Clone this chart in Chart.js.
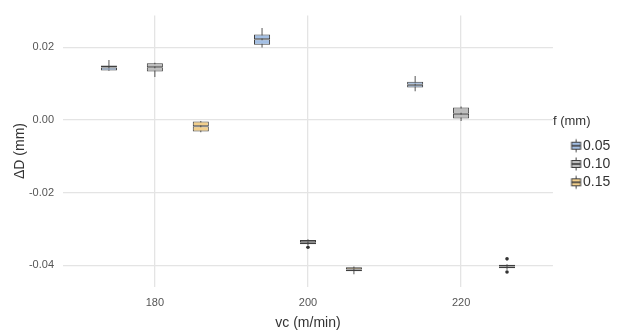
<!DOCTYPE html>
<html>
<head>
<meta charset="utf-8">
<script src="https://cdn.jsdelivr.net/npm/chart.js@4.4.1/dist/chart.umd.min.js"></script>
<style>
html,body{margin:0;padding:0;background:#ffffff;}
canvas{display:block;}
</style>
</head>
<body>
<canvas id="c" width="627" height="335"></canvas>
<script>
// ---------- data ----------
const VC = [180, 200, 220];                 // x categories (m/min)
const F_LABELS = ['0.05', '0.10', '0.15'];  // feed levels (mm)
const Y_TICKS = [-0.04, -0.02, 0.00, 0.02];

// box statistics per vc (180, 200, 220)
const F05_MIN = [0.0135, 0.0199, 0.0079];
const F05_Q1  = [0.0136, 0.0207, 0.0089];
const F05_MED = [0.0144, 0.0222, 0.0097];
const F05_Q3  = [0.0150, 0.0235, 0.0105];
const F05_MAX = [0.0165, 0.0253, 0.0121];

const F10_MIN = [0.0118, -0.0344, -0.0003];
const F10_Q1  = [0.0133, -0.0342, 0.0004];
const F10_MED = [0.0145, -0.0336, 0.0017];
const F10_Q3  = [0.0156, -0.0330, 0.0034];
const F10_MAX = [0.0157, -0.0328, 0.0037];

const F15_MIN = [-0.0034, -0.0424, -0.0412];
const F15_Q1  = [-0.0032, -0.0416, -0.0408];
const F15_MED = [-0.0017, -0.0411, -0.0403];
const F15_Q3  = [-0.0004, -0.0405, -0.0398];
const F15_MAX = [-0.0003, -0.0403, -0.0397];

// outliers
const OUT_SERIES = [1, 2, 2];               // index into F_LABELS
const OUT_VC     = [200, 220, 220];
const OUT_VAL    = [-0.0350, -0.0382, -0.0418];

// ---------- styling ----------
const FONT = "'Liberation Sans', Arial, Helvetica, sans-serif";
const FILLS = ['#a3bfe4', '#bdbdbd', '#f2cf8c'];
const EDGE = '#3f3f3f';
const WHISKER = '#555555';
const GRID = '#e4e4e4';
const DODGE_FRAC = 0.9;   // share of the vc step used by a dodged group
const BOX_FRAC = 0.35;    // box width within its dodge slot
const VC_STEP = VC[1] - VC[0];

Chart.defaults.font.family = FONT;
Chart.defaults.color = '#555';

const SERIES = [
  {label: F_LABELS[0], min: F05_MIN, q1: F05_Q1, med: F05_MED, q3: F05_Q3, max: F05_MAX},
  {label: F_LABELS[1], min: F10_MIN, q1: F10_Q1, med: F10_MED, q3: F10_Q3, max: F10_MAX},
  {label: F_LABELS[2], min: F15_MIN, q1: F15_Q1, med: F15_MED, q3: F15_Q3, max: F15_MAX}
];

const datasets = [];
// boxes: two floating halves per series (their shared edge forms the thick median)
SERIES.forEach((s, si) => {
  const common = {
    type: 'bar', stack: 'f' + si, backgroundColor: FILLS[si], borderColor: EDGE,
    borderWidth: 1, borderSkipped: false, barPercentage: BOX_FRAC,
    categoryPercentage: DODGE_FRAC, order: 1
  };
  datasets.push(Object.assign({}, common, {
    label: s.label + ' lower',
    data: VC.map((v, i) => ({x: v, y: [s.q1[i], s.med[i]]}))
  }));
  datasets.push(Object.assign({}, common, {
    label: s.label + ' upper',
    data: VC.map((v, i) => ({x: v, y: [s.med[i], s.q3[i]]}))
  }));
});
// whiskers
SERIES.forEach((s, si) => {
  datasets.push({
    type: 'bar', stack: 'f' + si, label: s.label + ' whisker',
    data: VC.map((v, i) => ({x: v, y: [s.min[i], s.max[i]]})),
    backgroundColor: WHISKER, borderWidth: 0, barPercentage: 0.05, maxBarThickness: 1,
    categoryPercentage: DODGE_FRAC, order: 2
  });
});
// outliers, dodged like the boxes
const slot = VC_STEP * DODGE_FRAC / SERIES.length;
datasets.push({
  type: 'scatter', label: 'outliers',
  data: OUT_VAL.map((v, i) => ({x: OUT_VC[i] + (OUT_SERIES[i] - (SERIES.length - 1) / 2) * slot, y: v})),
  pointRadius: 1.8, pointBackgroundColor: '#333', pointBorderWidth: 0, order: 0
});

function makeGlyph(fill) {
  const c = document.createElement('canvas');
  c.width = 44; c.height = 18;
  const g = c.getContext('2d');
  const cx = 31.5, cy = 9;
  g.strokeStyle = EDGE; g.lineWidth = 1;
  g.beginPath(); g.moveTo(cx, cy - 6.5); g.lineTo(cx, cy + 6.5); g.stroke();
  g.fillStyle = fill;
  g.fillRect(cx - 4.5, cy - 3.5, 9, 7);
  g.strokeRect(cx - 4.5, cy - 3.5, 9, 7);
  g.lineWidth = 1.6;
  g.beginPath(); g.moveTo(cx - 4.5, cy); g.lineTo(cx + 4.5, cy); g.stroke();
  return c;
}
const GLYPHS = FILLS.map(makeGlyph);

new Chart(document.getElementById('c'), {
  type: 'bar',
  data: {datasets},
  options: {
    responsive: false,
    animation: false,
    devicePixelRatio: 1,
    layout: {padding: {top: 10.8, right: 6.8, bottom: 0, left: 0}},
    plugins: {
      tooltip: {enabled: false},
      legend: {
        position: 'right', fullSize: false, align: 'center',
        onClick: null,
        title: {
          display: true, text: 'f (mm)', position: 'start', color: '#333',
          font: {size: 13}, padding: {top: 6.4, bottom: 3.9}
        },
        labels: {
          usePointStyle: true, pointStyleWidth: 18.7, padding: 4.3,
          color: '#333', font: {size: 14},
          generateLabels: () => SERIES.map((s, si) => ({
            text: s.label, pointStyle: GLYPHS[si], fillStyle: FILLS[si],
            strokeStyle: EDGE, lineWidth: 0, hidden: false, datasetIndex: si * 2,
            fontColor: '#333'
          }))
        }
      }
    },
    scales: {
      x: {
        type: 'linear', min: 168, max: 232, offset: false,
        afterBuildTicks: sc => { sc.ticks = VC.map(v => ({value: v})); },
        ticks: {callback: v => String(v), color: '#555', font: {size: 11}, padding: 10},
        grid: {color: GRID, lineWidth: 1.3, drawTicks: false, offset: false},
        border: {display: false},
        title: {display: true, text: 'vc (m/min)', color: '#333', font: {size: 14}, padding: {top: 0, bottom: 3.6}},
        afterFit: sc => { sc.height = 48.5; }
      },
      y: {
        type: 'linear', min: -0.0458, max: 0.0287, stacked: false,
        afterBuildTicks: sc => { sc.ticks = Y_TICKS.map(v => ({value: v})); },
        ticks: {callback: v => Number(v).toFixed(2), color: '#555', font: {size: 11}, padding: 9},
        grid: {color: GRID, lineWidth: 1.3, drawTicks: false},
        border: {display: false},
        title: {display: true, text: 'ΔD (mm)', color: '#333', font: {size: 14}, padding: {top: 11.6, bottom: 0}},
        afterFit: sc => { sc.width = 63; }
      }
    }
  }
});
</script>
</body>
</html>
